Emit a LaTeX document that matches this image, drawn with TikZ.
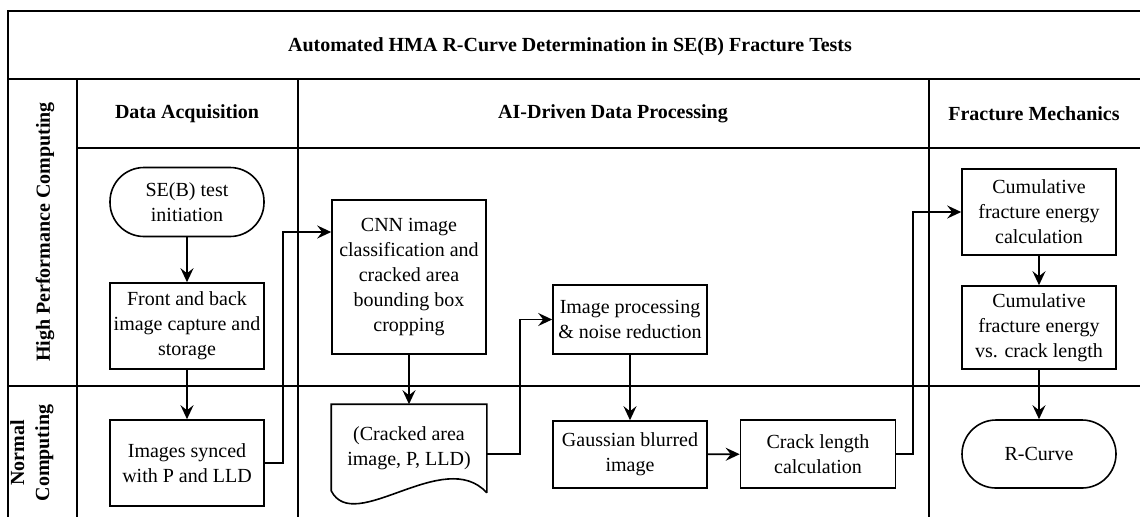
\documentclass[tikz,border=0pt]{standalone}
\usepackage{fontspec}
\newfontfamily\tnr{Liberation Serif}
\usetikzlibrary{arrows.meta,positioning,calc}

\begin{document}
\begin{tikzpicture}[x=0.5pt,y=-0.5pt,>={Stealth[length=7pt,width=6.5pt,inset=2.5pt]},line width=0.8pt,
    box/.style={draw,align=center,font=\tnr\fontsize{10}{12.5}\selectfont,minimum width=77pt,inner sep=1pt},
    term/.style={box,rounded corners=17pt},
    hd/.style={align=center,font=\tnr\bfseries\fontsize{10}{12.5}\selectfont},
    flow/.style={->,line width=0.9pt}]
    \useasboundingbox (0,0) rectangle (1140,516);
    % swimlane frame
    \draw (1141,11) -- (8,11) -- (8,517);
    \draw (8,79) -- (1141,79);
    \draw (77,79) -- (77,517);
    \draw (77,148) -- (1141,148);
    \draw (298,79) -- (298,517);
    \draw (929,79) -- (929,517);
    \draw (8,386) -- (1141,386);
    \node[hd] (title) at (570,47) {Automated HMA R-Curve Determination in SE(B) Fracture Tests};
    \node[hd] (da) at (187,114) {Data Acquisition};
    \node[hd] (ai) at (613,114) {AI-Driven Data Processing};
    \node[hd] (fm) at (1034,114) {Fracture Mechanics};
    \node[hd,rotate=90] (hpc) at (45,232) {High Performance Computing};
    \node[hd,rotate=90] (nc) at (32,453) {Normal\\Computing};
    % steps
    \node[term,minimum height=34.5pt] (init) at (187,202) {SE(B) test\\initiation};
    \node[box,minimum height=43pt] (front) at (187,326) {Front and back\\image capture and\\storage};
    \node[box,minimum height=43pt] (sync) at (187,463) {Images synced\\with P and LLD};
    \node[box,minimum height=77pt] (cnn) at (409,277) {CNN image\\classification and\\cracked area\\bounding box\\cropping};
    \node[box,draw=none,minimum height=43.5pt] (doc) at (409,448.5) {(Cracked area\\image, P, LLD)};
    \draw (doc.south east) -- (doc.north east) -- (doc.north west) -- ($(doc.south west)+(0,-2)$)
      .. controls ($(doc.south west)+(23,43)$) and ($(doc.south west)+(113,-47)$) .. (doc.south east);
    \node[box,minimum height=34.5pt] (imgp) at (630,319.5) {Image processing\\\& noise reduction};
    \node[box,minimum height=33.5pt] (gauss) at (630,454.5) {Gaussian blurred\\image};
    \node[box,minimum height=34pt,minimum width=77.5pt] (crack) at (818,454) {Crack length\\calculation};
    \node[box,minimum height=43pt] (cum) at (1039,212) {Cumulative\\fracture energy\\calculation};
    \node[box,minimum height=41.5pt] (cumvs) at (1039,327.5) {Cumulative\\fracture energy\\vs. crack length};
    \node[term,minimum height=34pt] (rc) at (1039,454) {R-Curve};
    % connectors
    \draw[flow] (init) -- (front);
    \draw[flow] (front) -- (sync);
    \draw[flow] (sync.east) -- ++(18,0) |- ([yshift=22.5pt]cnn.west);
    \draw[flow] (cnn) -- (doc.north);
    \draw[flow] ([yshift=-2.75pt]doc.east) -- ++(33,0) |- (imgp.west);
    \draw[flow] (imgp) -- (gauss);
    \draw[flow] (gauss) -- (crack);
    \draw[flow] (crack.east) -- ++(17,0) |- (cum.west);
    \draw[flow] (cum) -- (cumvs);
    \draw[flow] (cumvs) -- (rc);
\end{tikzpicture}
\end{document}
